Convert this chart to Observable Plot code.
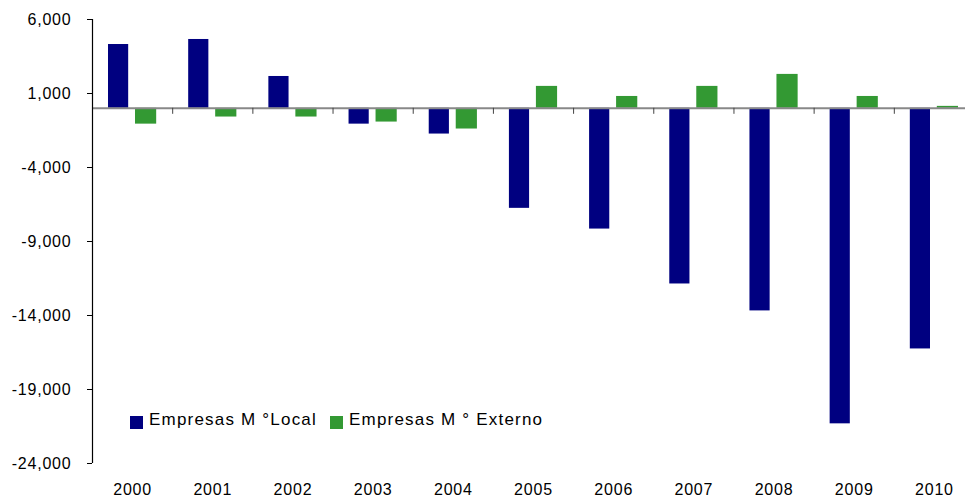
<!DOCTYPE html>
<html>
<head>
<meta charset="utf-8">
<script src="https://cdn.jsdelivr.net/npm/d3@7"></script>
<script src="https://cdn.jsdelivr.net/npm/@observablehq/plot@0.6"></script>
<style>
  html, body { margin: 0; padding: 0; background: #fff; }
  #wrap { position: relative; width: 965px; height: 499px; font-family: "Liberation Sans", Arial, sans-serif; }
  .sw { position: absolute; width: 13px; height: 13px; }
  .lt { position: absolute; font-size: 17px; line-height: 17px; letter-spacing: 1.2px; color: #000; white-space: pre; }
</style>
</head>
<body>
<div id="wrap"></div>
<script>
const years = [2000, 2001, 2002, 2003, 2004, 2005, 2006, 2007, 2008, 2009, 2010];
const localValues = [4310, 4650, 2150, -1070, -1740, -6760, -8160, -11870, -13690, -21320, -16260];
const externoValues = [-1070, -590, -590, -930, -1400, 1480, 800, 1480, 2290, 800, 130];
const yTicks = [6000, 1000, -4000, -9000, -14000, -19000, -24000];
const seriesNames = ["Empresas M °Local", "Empresas M ° Externo"];
const colors = ["#000080", "#339933"];

const localRows = years.map((year, i) => ({year, value: localValues[i]}));
const externoRows = years.map((year, i) => ({year, value: externoValues[i]}));
const boundaries = years.slice(0, -1).map(y => y + 0.5);

const fmt = d => d3.format(",")(d).replace("−", "-");

const chart = Plot.plot({
  width: 965,
  height: 499,
  marginLeft: 92,
  marginRight: 0,
  marginTop: 19,
  marginBottom: 36,
  style: {fontFamily: "Liberation Sans, Arial, sans-serif", fontSize: "16px", letterSpacing: "0.8px", color: "#000", background: "#fff"},
  x: {type: "linear", domain: [1999.5, 2010.5], range: [92, 974], ticks: years, tickFormat: d => String(d), tickSize: 0, tickPadding: 20, label: null},
  y: {domain: [-24000, 6000], ticks: yTicks, tickFormat: fmt, tickSize: 5, tickPadding: 16, label: null},
  marks: [
    Plot.rectY(localRows, {x1: d => d.year - 0.5, x2: d => d.year + 0.5, y1: 0, y2: "value", fill: colors[0], insetLeft: 16, insetRight: 44}),
    Plot.rectY(externoRows, {x1: d => d.year - 0.5, x2: d => d.year + 0.5, y1: 0, y2: "value", fill: colors[1], insetLeft: 43, insetRight: 16}),
    Plot.ruleY([0], {stroke: "#888", strokeWidth: 2}),
    Plot.ruleX(boundaries, {x: d => d, y1: 0, y2: 0, insetBottom: -6, stroke: "#444"}),
    Plot.ruleX([1999.5], {stroke: "#000", strokeWidth: 1.2})
  ]
});

const wrap = document.getElementById("wrap");
wrap.appendChild(chart);

const legend = [
  {sx: 130, tx: 149, name: seriesNames[0], color: colors[0]},
  {sx: 330, tx: 349, name: seriesNames[1], color: colors[1]}
];
for (const l of legend) {
  const s = document.createElement("div");
  s.className = "sw";
  s.style.left = l.sx + "px";
  s.style.top = "416px";
  s.style.background = l.color;
  wrap.appendChild(s);
  const t = document.createElement("div");
  t.className = "lt";
  t.style.left = l.tx + "px";
  t.style.top = "411px";
  t.textContent = l.name;
  wrap.appendChild(t);
}
</script>
</body>
</html>
